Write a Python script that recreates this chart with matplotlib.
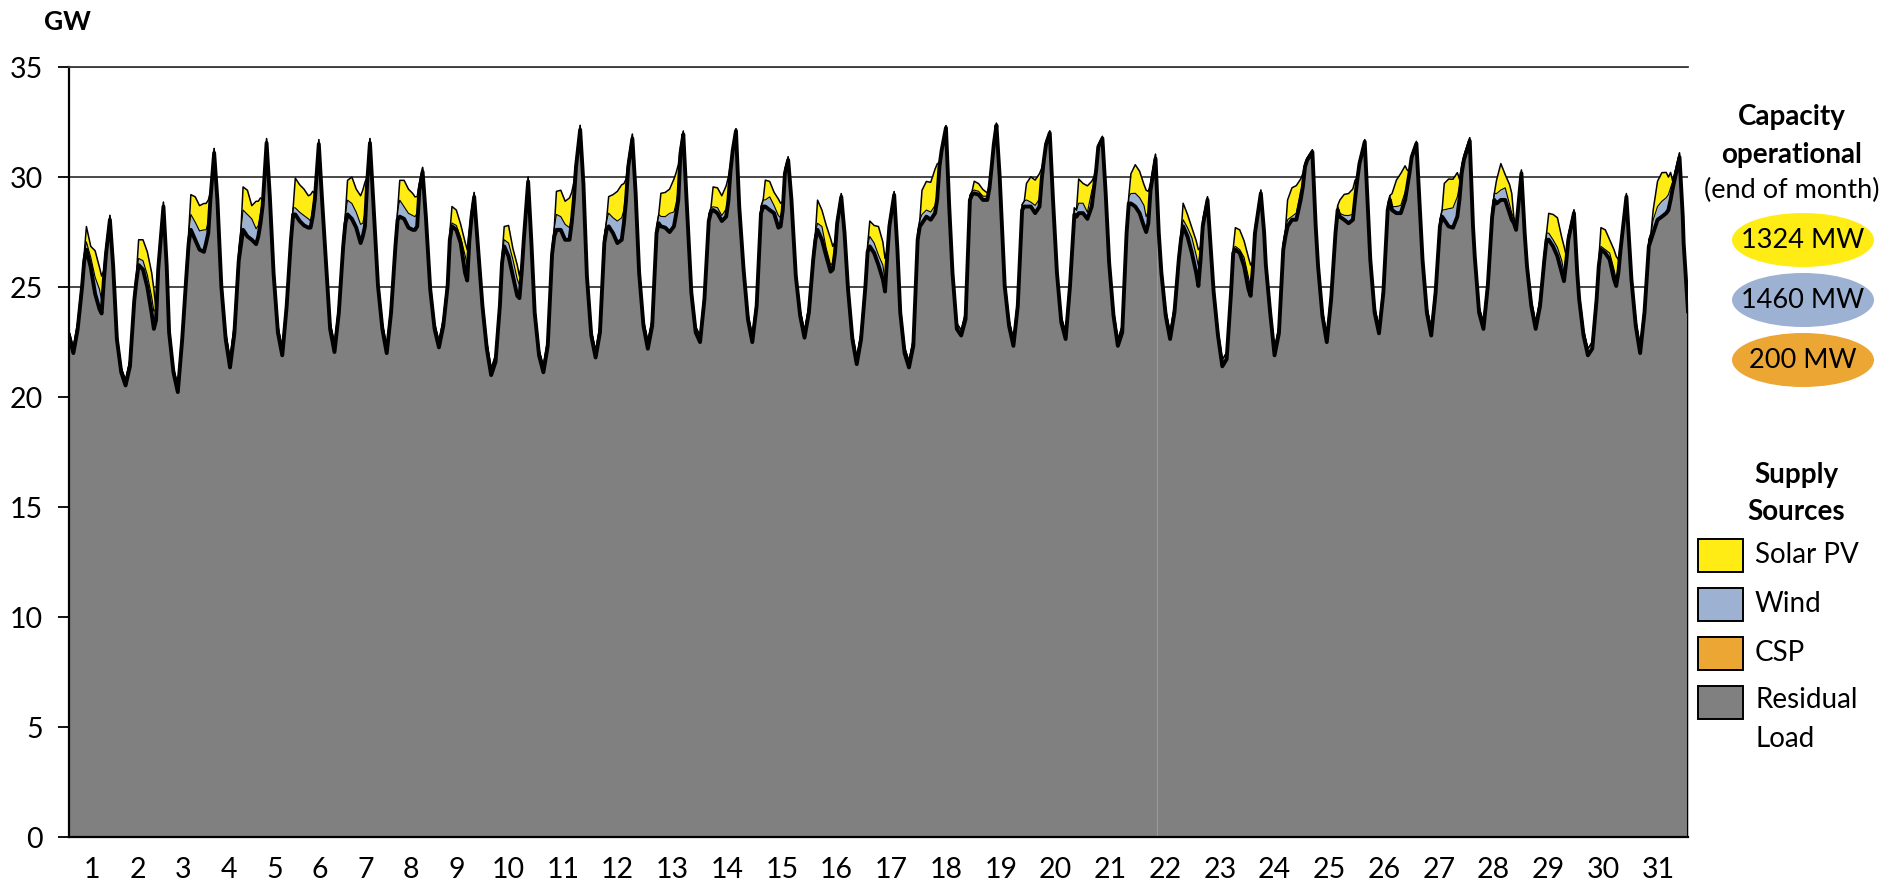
import numpy as np
import matplotlib
matplotlib.use("Agg")
import matplotlib.pyplot as plt
from matplotlib.patches import Ellipse, Rectangle

plt.rcParams['font.family'] = ['Lato', 'DejaVu Sans']

# ---------------- data (GW) ----------------
DAY_LABELS = [str(d) for d in range(1, 32)]
KEY_HOURS = [0, 2, 4, 6, 7, 8, 10, 12, 14, 15, 16, 17]   # + evening peak, peak+1.5h, 22h
PEAK_HOUR = [18.8, 19.4, 18.7, 18.8, 18.8, 18.3, 18.5, 18.2, 19.0, 18.9,
             18.9, 18.3, 18.5, 18.5, 18.9, 19.2, 19.0, 18.2, 18.7, 18.9,
             19.3, 19.2, 19.7, 19.4, 19.45, 19.2, 19.7, 19.45, 19.6, 19.7, 20.1]

RESIDUAL = [
    [22.8, 22.0, 23.1, 25.0, 26.2, 26.7, 25.9, 24.7, 24.0, 23.8, 25.3, 26.5, 28.06, 25.95, 22.64],
    [21.13, 20.53, 21.4, 24.4, 25.3, 26.0, 25.8, 25.0, 23.8, 23.1, 23.5, 25.8, 28.66, 25.95, 22.94],
    [21.13, 20.23, 22.6, 25.6, 27.0, 27.6, 27.15, 26.7, 26.6, 27.0, 27.45, 29.0, 31.1, 28.96, 25.05],
    [22.64, 21.35, 22.9, 26.2, 26.9, 27.6, 27.3, 27.15, 26.95, 27.3, 27.9, 28.7, 31.55, 29.1, 25.65],
    [22.94, 21.9, 24.1, 27.15, 28.3, 28.3, 28.0, 27.8, 27.7, 27.7, 28.2, 29.0, 31.5, 28.96, 26.25],
    [23.1, 22.05, 23.84, 26.85, 27.9, 28.3, 28.1, 27.7, 27.0, 27.3, 27.76, 29.7, 31.55, 28.96, 25.05],
    [23.1, 22.0, 23.84, 26.85, 28.06, 28.2, 28.1, 27.7, 27.6, 27.6, 27.76, 29.4, 30.24, 28.2, 24.9],
    [23.1, 22.26, 23.24, 25.05, 27.15, 27.76, 27.6, 27.0, 25.65, 25.3, 27.15, 28.2, 29.1, 27.15, 24.14],
    [22.2, 21.0, 21.6, 24.14, 26.1, 26.85, 26.4, 25.5, 24.6, 24.5, 25.65, 27.15, 29.8, 27.0, 23.84],
    [21.9, 21.13, 22.33, 26.5, 27.3, 27.6, 27.6, 27.15, 27.15, 27.9, 28.96, 30.47, 32.15, 29.7, 25.5],
    [22.8, 21.8, 22.94, 27.0, 27.6, 27.76, 27.45, 27.0, 27.15, 27.9, 28.96, 30.47, 31.75, 29.26, 25.65],
    [23.24, 22.2, 23.24, 27.45, 27.9, 27.76, 27.7, 27.5, 27.76, 28.3, 28.96, 31.07, 31.94, 28.96, 24.74],
    [22.94, 22.5, 24.44, 28.0, 28.4, 28.5, 28.36, 28.0, 28.2, 28.9, 30.3, 31.2, 32.1, 28.66, 25.8],
    [23.54, 22.5, 24.14, 28.36, 28.66, 28.66, 28.5, 28.36, 27.7, 27.76, 28.5, 30.17, 30.77, 28.96, 25.5],
    [23.7, 22.7, 23.84, 26.25, 27.15, 27.6, 27.15, 26.4, 25.7, 25.8, 26.55, 27.9, 29.1, 27.45, 24.9],
    [22.64, 21.5, 22.64, 25.05, 26.6, 26.85, 26.55, 26.0, 25.35, 24.8, 26.4, 27.76, 29.19, 26.7, 23.84],
    [22.0, 21.35, 22.33, 27.15, 27.76, 27.9, 28.2, 28.06, 28.36, 29.0, 30.47, 31.2, 32.24, 28.66, 25.65],
    [23.1, 22.8, 23.54, 28.96, 29.2, 29.26, 29.2, 28.96, 28.96, 29.5, 30.47, 31.5, 32.35, 30.0, 25.05],
    [23.24, 22.33, 24.14, 28.5, 28.66, 28.66, 28.66, 28.36, 28.66, 29.9, 30.77, 31.5, 32.0, 28.96, 25.65],
    [23.4, 22.64, 25.05, 28.3, 28.2, 28.36, 28.36, 28.1, 28.66, 29.5, 30.3, 31.37, 31.75, 29.26, 26.1],
    [23.7, 22.33, 22.94, 27.45, 28.8, 28.8, 28.66, 28.36, 27.76, 27.5, 27.9, 29.4, 30.84, 27.45, 25.65],
    [23.7, 22.64, 23.84, 26.25, 27.15, 27.76, 27.3, 26.55, 25.65, 25.05, 26.25, 27.76, 28.96, 26.7, 24.8],
    [22.8, 21.4, 21.73, 24.74, 26.55, 26.7, 26.55, 25.95, 24.9, 24.6, 25.8, 27.45, 29.26, 27.5, 26.0],
    [23.84, 21.9, 22.9, 26.7, 27.3, 27.76, 28.06, 28.06, 28.96, 29.56, 30.47, 30.77, 31.14, 27.8, 25.95],
    [23.7, 22.5, 24.44, 27.45, 28.5, 28.2, 28.06, 27.9, 28.06, 29.0, 29.86, 30.6, 31.6, 28.5, 26.25],
    [23.84, 22.9, 24.74, 28.5, 28.96, 28.5, 28.36, 28.36, 28.96, 29.56, 30.17, 30.9, 31.52, 28.66, 26.25],
    [23.84, 22.8, 24.74, 27.76, 28.2, 28.06, 27.76, 27.7, 28.2, 29.0, 30.17, 30.77, 31.64, 27.76, 26.4],
    [23.84, 23.1, 25.05, 28.2, 28.96, 28.8, 28.96, 28.96, 28.36, 28.06, 27.9, 27.6, 30.17, 27.45, 25.95],
    [24.14, 23.1, 24.14, 26.25, 27.15, 27.15, 26.85, 26.4, 25.65, 25.27, 26.1, 27.15, 28.36, 25.65, 24.44],
    [22.8, 21.9, 22.2, 24.44, 25.95, 26.7, 26.55, 26.25, 25.35, 25.05, 25.65, 26.7, 29.1, 26.7, 25.35],
    [23.24, 22.0, 23.84, 26.85, 27.15, 27.45, 28.06, 28.2, 28.36, 28.5, 28.96, 29.5, 30.9, 28.2, 27.0],
]

WIND = [
    [0.2, 0.25, 0.3, 0.3, 0.3, 0.35, 0.45, 0.7, 0.8, 0.6, 0.4, 0.3, 0.2, 0.2, 0.25],
    [0.2, 0.25, 0.3, 0.3, 0.3, 0.3, 0.4, 0.5, 0.7, 0.8, 0.5, 0.3, 0.2, 0.2, 0.25],
    [0.2, 0.3, 0.3, 0.4, 0.5, 0.7, 0.8, 0.8, 0.9, 0.6, 0.45, 0.3, 0.2, 0.2, 0.25],
    [0.3, 0.4, 0.4, 0.5, 0.7, 0.9, 1.0, 0.9, 0.6, 0.5, 0.4, 0.3, 0.2, 0.2, 0.3],
    [0.3, 0.3, 0.3, 0.3, 0.3, 0.3, 0.4, 0.4, 0.35, 0.3, 0.3, 0.25, 0.2, 0.2, 0.25],
    [0.3, 0.4, 0.3, 0.3, 0.4, 0.65, 0.7, 0.65, 0.8, 0.6, 0.6, 0.3, 0.2, 0.2, 0.25],
    [0.25, 0.3, 0.3, 0.3, 0.4, 0.75, 0.55, 0.6, 0.6, 0.6, 0.6, 0.3, 0.2, 0.2, 0.25],
    [0.25, 0.3, 0.3, 0.3, 0.3, 0.15, 0.2, 0.2, 0.75, 0.7, 0.4, 0.3, 0.2, 0.2, 0.25],
    [0.3, 0.3, 0.3, 0.3, 0.3, 0.3, 0.6, 0.7, 0.7, 0.6, 0.4, 0.3, 0.2, 0.2, 0.25],
    [0.25, 0.3, 0.3, 0.3, 0.4, 0.7, 0.6, 0.6, 0.45, 0.3, 0.25, 0.2, 0.2, 0.2, 0.25],
    [0.25, 0.3, 0.3, 0.3, 0.4, 0.6, 0.7, 0.9, 0.9, 0.6, 0.4, 0.25, 0.2, 0.2, 0.25],
    [0.25, 0.35, 0.3, 0.3, 0.4, 0.45, 0.5, 0.8, 0.6, 0.5, 0.45, 0.25, 0.15, 0.2, 0.25],
    [0.25, 0.3, 0.3, 0.3, 0.2, 0.15, 0.25, 0.2, 0.3, 0.3, 0.1, 0.1, 0.1, 0.2, 0.25],
    [0.25, 0.3, 0.3, 0.3, 0.3, 0.3, 0.6, 0.3, 0.5, 0.4, 0.2, 0.2, 0.15, 0.2, 0.25],
    [0.25, 0.3, 0.3, 0.3, 0.3, 0.3, 0.6, 0.3, 0.25, 0.3, 0.3, 0.2, 0.15, 0.2, 0.25],
    [0.25, 0.3, 0.3, 0.3, 0.3, 0.45, 0.45, 0.4, 0.6, 0.5, 0.3, 0.2, 0.15, 0.2, 0.25],
    [0.25, 0.3, 0.3, 0.3, 0.3, 0.4, 0.3, 0.3, 0.3, 0.3, 0.1, 0.1, 0.1, 0.2, 0.25],
    [0.25, 0.25, 0.3, 0.2, 0.15, 0.15, 0.15, 0.15, 0.15, 0.15, 0.1, 0.1, 0.1, 0.2, 0.25],
    [0.25, 0.3, 0.3, 0.25, 0.25, 0.3, 0.2, 0.3, 0.3, 0.1, 0.1, 0.1, 0.1, 0.2, 0.25],
    [0.25, 0.3, 0.3, 0.3, 0.3, 0.45, 0.45, 0.25, 0.6, 0.2, 0.1, 0.1, 0.1, 0.2, 0.25],
    [0.25, 0.3, 0.3, 0.3, 0.3, 0.45, 0.6, 0.6, 0.85, 0.7, 0.5, 0.3, 0.2, 0.2, 0.25],
    [0.25, 0.3, 0.3, 0.3, 0.3, 0.3, 0.4, 0.6, 0.7, 0.9, 0.5, 0.3, 0.15, 0.2, 0.25],
    [0.25, 0.3, 0.3, 0.25, 0.2, 0.15, 0.15, 0.3, 0.45, 0.4, 0.3, 0.2, 0.15, 0.2, 0.25],
    [0.25, 0.3, 0.3, 0.3, 0.3, 0.3, 0.15, 0.2, 0.3, 0.1, 0.1, 0.1, 0.1, 0.2, 0.25],
    [0.25, 0.3, 0.3, 0.25, 0.2, 0.15, 0.2, 0.3, 0.2, 0.1, 0.1, 0.1, 0.1, 0.2, 0.25],
    [0.25, 0.3, 0.3, 0.25, 0.2, 0.15, 0.3, 0.3, 0.3, 0.1, 0.1, 0.1, 0.1, 0.2, 0.25],
    [0.25, 0.3, 0.3, 0.3, 0.3, 0.45, 0.8, 0.8, 0.8, 0.6, 0.3, 0.2, 0.15, 0.2, 0.25],
    [0.25, 0.3, 0.3, 0.3, 0.3, 0.45, 0.45, 0.45, 0.3, 0.3, 0.2, 0.2, 0.15, 0.2, 0.25],
    [0.25, 0.3, 0.3, 0.3, 0.3, 0.3, 0.3, 0.3, 0.45, 0.4, 0.3, 0.2, 0.15, 0.2, 0.25],
    [0.25, 0.3, 0.3, 0.3, 0.25, 0.15, 0.15, 0.15, 0.3, 0.3, 0.2, 0.2, 0.15, 0.2, 0.25],
    [0.25, 0.3, 0.3, 0.3, 0.3, 0.6, 0.6, 0.6, 0.6, 0.7, 0.5, 0.3, 0.2, 0.2, 0.25],
]

SOLAR_HOURS = [8, 10, 12, 14, 15, 16]
SOLAR = [
    [0.7, 0.5, 1.2, 1.0, 1.1, 0.0], [0.85, 0.95, 1.05, 1.1, 1.0, 0.0],
    [0.9, 1.15, 1.15, 1.2, 1.2, 1.0], [1.05, 1.1, 0.6, 1.25, 1.1, 0.7],
    [1.35, 1.25, 1.2, 1.05, 1.2, 0.8], [0.9, 1.2, 1.05, 1.3, 1.5, 1.4],
    [0.9, 1.2, 1.1, 1.0, 0.9, 0.75], [0.75, 0.7, 0.6, 0.6, 0.7, 0.0],
    [0.6, 0.8, 0.5, 0.65, 0.4, 0.0], [1.05, 1.2, 1.05, 1.35, 1.1, 0.5],
    [0.75, 1.05, 1.35, 1.5, 1.2, 0.5], [1.05, 1.1, 1.1, 1.5, 1.4, 1.1],
    [0.9, 0.9, 0.9, 1.05, 0.8, 0.2], [0.9, 0.7, 0.6, 0.75, 0.65, 0.2],
    [1.05, 0.75, 1.05, 1.2, 0.75, 0.2], [0.7, 0.8, 1.3, 1.05, 1.0, 0.0],
    [1.1, 1.3, 1.35, 1.65, 1.3, 0.1], [0.4, 0.35, 0.3, 0.15, 0.0, 0.0],
    [0.75, 1.15, 1.15, 1.15, 0.4, 0.0], [1.1, 0.9, 1.2, 0.45, 0.3, 0.0],
    [0.9, 1.3, 1.2, 0.95, 1.2, 0.9], [0.75, 0.6, 0.45, 0.65, 0.75, 0.0],
    [0.85, 0.9, 0.75, 0.9, 1.0, 0.0], [0.9, 1.3, 1.25, 0.55, 0.5, 0.0],
    [0.6, 0.95, 1.0, 1.15, 0.75, 0.0], [0.6, 1.2, 1.45, 1.2, 0.65, 0.0],
    [1.2, 1.35, 1.3, 1.1, 0.3, 0.0], [0.6, 1.2, 0.6, 0.9, 0.9, 0.0],
    [0.9, 1.15, 1.35, 1.05, 1.2, 0.0], [0.85, 0.9, 0.6, 0.9, 1.05, 0.3],
    [0.45, 1.15, 1.3, 1.15, 0.8, 0.7],
]

CSP_HOURS = [12, 14, 16]
CSP = [
    [0.05, 0.1, 0.05], [0.05, 0.05, 0.0], [0.05, 0.1, 0.05], [0.05, 0.1, 0.05],
    [0.05, 0.05, 0.05], [0.05, 0.05, 0.0], [0.05, 0.05, 0.0], [0.05, 0.05, 0.0],
    [0.05, 0.05, 0.0], [0.1, 0.1, 0.05], [0.1, 0.1, 0.05], [0.05, 0.05, 0.05],
    [0.05, 0.05, 0.0], [0.05, 0.05, 0.0], [0.05, 0.05, 0.0], [0.05, 0.05, 0.0],
    [0.05, 0.05, 0.0], [0.02, 0.02, 0.0], [0.05, 0.05, 0.0], [0.05, 0.1, 0.0],
    [0.1, 0.1, 0.05], [0.1, 0.1, 0.05], [0.1, 0.1, 0.05], [0.1, 0.1, 0.05],
    [0.05, 0.05, 0.0], [0.05, 0.05, 0.0], [0.1, 0.1, 0.05], [0.1, 0.1, 0.05],
    [0.1, 0.1, 0.05], [0.15, 0.15, 0.1], [0.1, 0.1, 0.05],
]

END_RESIDUAL = 23.9
END_WIND = 0.25

CAPACITY_LABELS = ["1324 MW", "1460 MW", "200 MW"]
SOURCE_LABELS = ["Solar PV", "Wind", "CSP", "Residual\nLoad"]

# ---------------- build hourly time axis ----------------
t, r, w, s, c = [], [], [], [], []
for d in range(31):
    hrs = KEY_HOURS + [PEAK_HOUR[d], PEAK_HOUR[d] + 1.5, 22]
    for i, h in enumerate(hrs):
        t.append(d * 24 + h)
        r.append(RESIDUAL[d][i])
        w.append(WIND[d][i])
        s.append(SOLAR[d][SOLAR_HOURS.index(h)] if (i < 12 and h in SOLAR_HOURS) else 0.0)
        c.append(CSP[d][CSP_HOURS.index(h)] if (i < 12 and h in CSP_HOURS) else 0.0)
t.append(31 * 24); r.append(END_RESIDUAL); w.append(END_WIND); s.append(0.0); c.append(0.0)
t, r, w, s, c = map(np.array, (t, r, w, s, c))
top_c = r + c
top_w = top_c + w
top_s = top_w + s

# ---------------- colours ----------------
GRAY = '#808080'
YELLOW = '#FFEC14'
BLUE = '#9DB1D3'
ORANGE = '#ECA634'

W_PX, H_PX = 1900, 882
fig = plt.figure(figsize=(W_PX / 100, H_PX / 100), dpi=100)
ax = fig.add_axes([69 / W_PX, 1 - 837.3 / H_PX, (1688 - 69) / W_PX, (837.3 - 67) / H_PX])

ax.fill_between(t, 0, r, color=GRAY, lw=0, zorder=2)
ax.fill_between(t, r, top_c, color=ORANGE, lw=0, zorder=3)
ax.fill_between(t, top_c, top_w, color=BLUE, lw=0, zorder=4)
ax.fill_between(t, top_w, top_s, color=YELLOW, lw=0, zorder=5)
ax.plot(t, top_s, color='black', lw=1.1, zorder=6)
ax.plot(t, top_w, color='black', lw=0.8, zorder=6)
ax.plot(t, r, color='black', lw=2.8, zorder=7, solid_joinstyle='round')
ax.plot([t[-1], t[-1]], [0, r[-1]], color='black', lw=1.5, zorder=7)
# faint seam in the residual area
seam_x = 500
ax.plot([seam_x, seam_x], [0, np.interp(seam_x, t, r) - 0.3], color='#9a9a9a', lw=0.8, zorder=2.5)

ax.set_xlim(0, 744)
ax.set_ylim(0, 35)
ax.set_yticks(range(0, 36, 5))
ax.yaxis.grid(True, color='#3a3a3a', lw=1.3, zorder=0)
ax.set_axisbelow(True)

# day labels (laid out as in the original text row)
label_px = [92 + i * 45.6 for i in range(9)] + [508 + i * 54.76 for i in range(22)]
ax.set_xticks([(p - 69) / ((1688 - 69) / 744) for p in label_px])
ax.set_xticklabels(DAY_LABELS)
ax.tick_params(axis='x', length=0, pad=14, labelsize=20.5)
ax.tick_params(axis='y', length=8, width=1.3, pad=11, labelsize=20.5, direction='out')

ax.spines['right'].set_visible(False)
ax.spines['top'].set_color('#3a3a3a')
ax.spines['top'].set_linewidth(1.3)
ax.spines['left'].set_linewidth(1.6)
ax.spines['bottom'].set_linewidth(1.6)


def fp(x, y):
    return x / W_PX, 1 - y / H_PX


fig.text(*fp(67, 22), "GW", fontsize=19, fontweight='bold', ha='center', va='center')

# capacity block
fig.text(*fp(1792, 117), "Capacity", fontsize=20, fontweight='bold', ha='center', va='center')
fig.text(*fp(1792, 155), "operational", fontsize=20, fontweight='bold', ha='center', va='center')
fig.text(*fp(1792, 190), "(end of month)", fontsize=19.5, ha='center', va='center')
for yc, col, lab in zip([240, 300, 360], [YELLOW, BLUE, ORANGE], CAPACITY_LABELS):
    e = Ellipse(fp(1803, yc), 142 / W_PX, 54 / H_PX, transform=fig.transFigure,
                facecolor=col, edgecolor='none')
    fig.add_artist(e)
    fig.text(*fp(1803, yc + 1), lab, fontsize=19.5, ha='center', va='center')

# supply-source legend
fig.text(*fp(1796, 475), "Supply", fontsize=20, fontweight='bold', ha='center', va='center')
fig.text(*fp(1796, 512), "Sources", fontsize=20, fontweight='bold', ha='center', va='center')
for yc, col, lab in zip([555, 604, 653, 702], [YELLOW, BLUE, ORANGE, GRAY], SOURCE_LABELS):
    x0, y0 = fp(1698, yc + 16.5)
    rect = Rectangle((x0, y0), 45 / W_PX, 33 / H_PX, transform=fig.transFigure,
                     facecolor=col, edgecolor='black', lw=1.4)
    fig.add_artist(rect)
    if '\n' in lab:
        fig.text(*fp(1755, yc - 15), lab, fontsize=20, ha='left', va='top', linespacing=1.6)
    else:
        fig.text(*fp(1755, yc), lab, fontsize=20, ha='left', va='center')

fig.savefig("out.png", dpi=100)
